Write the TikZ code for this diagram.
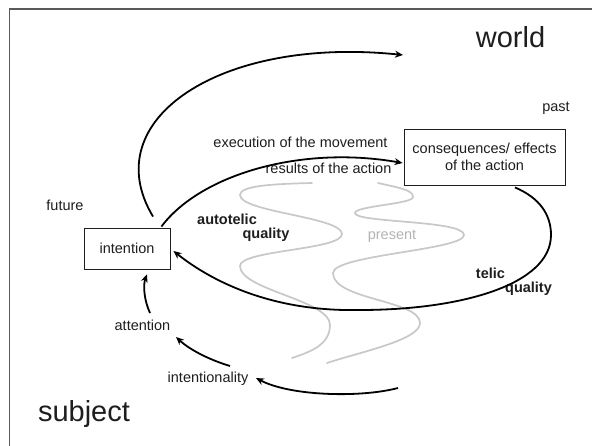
\documentclass[tikz,border=0pt]{standalone}
\usepackage{fontspec}
\setmainfont{Liberation Sans}
\usetikzlibrary{arrows.meta,calc}
\definecolor{ink}{HTML}{1E1E1E}
\definecolor{wave}{HTML}{C8C8C8}
\definecolor{frame}{HTML}{5A5A5A}
\begin{document}
\begin{tikzpicture}[x=1pt,y=-1pt,
  lbl/.style={font=\fontsize{14.5}{17}\selectfont, text=ink, inner sep=0pt, anchor=base},
  big/.style={font=\fontsize{29}{33}\selectfont, text=ink, inner sep=0pt, anchor=base},
  boxnode/.style={draw=ink, line width=0.9pt, font=\fontsize{14.5}{17}\selectfont, text=ink, align=center, inner sep=0pt},
  arr/.style={draw=black, line width=1.8pt, -{Stealth[length=8pt,width=7pt]}},
  wavy/.style={draw=wave, line width=1.7pt, line cap=round}
]
\useasboundingbox (0,0) rectangle (592,446);
\fill[white] (0,0) rectangle (592,446);
\draw[frame, line width=1.2pt] (9.5,446) -- (9.5,9) -- (592,9);

% grey waves
\draw[wavy] (312,183) .. controls (270,184) and (240,186) .. (240,195)
  .. controls (240,212) and (342,217) .. (342,234)
  .. controls (342,250) and (240,250) .. (240,266)
  .. controls (240,290) and (330,300) .. (330,325)
  .. controls (330,345) and (310,352) .. (292,358);
\draw[wavy] (378,183) .. controls (400,188) and (413,190) .. (413,197)
  .. controls (413,204) and (355,206) .. (355,213)
  .. controls (355,223) and (464,220) .. (464,235)
  .. controls (464,250) and (333,255) .. (333,273)
  .. controls (333,300) and (420,300) .. (420,323)
  .. controls (420,340) and (360,352) .. (327,363);

% texts
\node[big] (world) at (510.5,48) {world};
\node[big] (subject) at (84,421) {subject};
\node[lbl] (past) at (556,112) {past};
\node[lbl] (future) at (65,211) {future};
\node[lbl] (exec) at (300.5,148) {execution of the movement};
\node[lbl] (results) at (328.5,174) {results of the action};
\node[lbl, font=\fontsize{14.5}{17}\selectfont\bfseries] (auto1) at (227,225) {autotelic};
\node[lbl, font=\fontsize{14.5}{17}\selectfont\bfseries] (auto2) at (266,239) {quality};
\node[lbl, text=wave!90!black] (present) at (392,240) {present};
\node[lbl, font=\fontsize{14.5}{17}\selectfont\bfseries] (telic1) at (490.5,279) {telic};
\node[lbl, font=\fontsize{14.5}{17}\selectfont\bfseries] (telic2) at (528.5,293) {quality};
\node[lbl] (attention) at (142.5,331) {attention};
\node[lbl] (intentionality) at (208,383) {intentionality};

% boxes
\node[boxnode, minimum width=86pt, minimum height=41pt] (intention) at (127,248.5) {intention};
\node[boxnode, minimum width=161pt, minimum height=56pt] (cons) at (484.5,157) {consequences/ effects\\of the action};

\coordinate (topEnd) at (403,55);
\coordinate (botStart) at (398,388);

% connectors
\draw[arr] ($(intention.north)+(26,-11)$) .. controls (95,120) and (220,36) .. (topEnd);
\draw[arr] ($(intention.north east)+(-9,-1)$) .. controls (200,175) and (300,145) .. ($(cons.west)+(-1,6)$);
\draw[arr] ($(cons.south)+(30.5,2)$) .. controls (540,198) and (551,215) .. (551,235)
   .. controls (551,285) and (460,310) .. (360,310)
   .. controls (270,312) and (210,280) .. ($(intention.east)+(3,2.5)$);
\draw[arr] ($(attention.base)+(7.5,-18)$) .. controls (144,300) and (143,285) .. ($(intention.south)+(20,5)$);
\draw[arr] ($(intentionality.base)+(22,-17)$) .. controls (210,360) and (190,350) .. ($(attention.base)+(33.5,6)$);
\draw[arr] (botStart) .. controls (360,398) and (290,396) .. ($(intentionality.base)+(48,-5)$);
\end{tikzpicture}
\end{document}
